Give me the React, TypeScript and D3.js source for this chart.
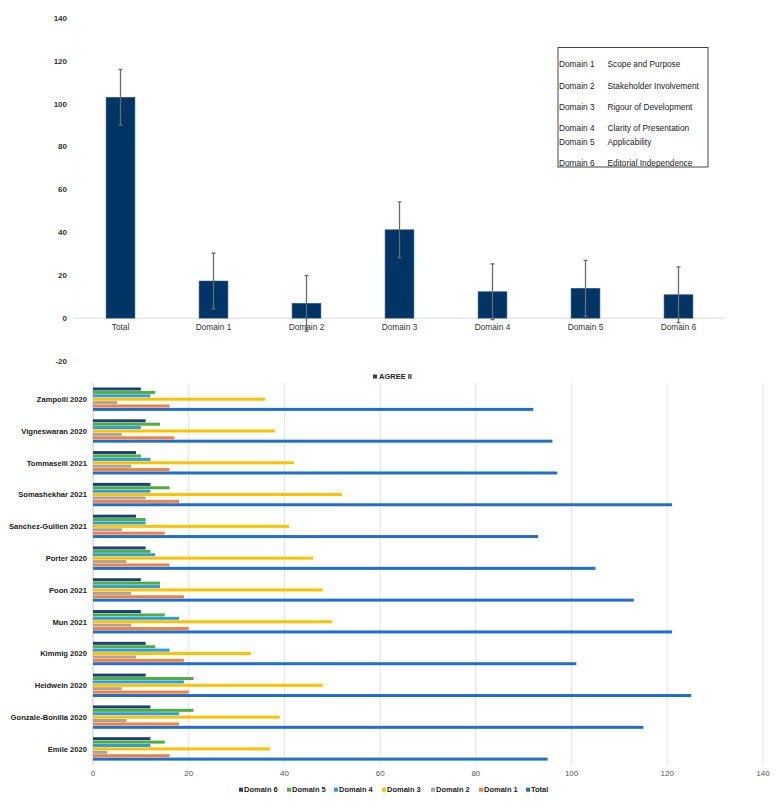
import React from "react";
import * as d3 from "d3";

// ---- Top chart data ----
const topCategories = ["Total", "Domain 1", "Domain 2", "Domain 3", "Domain 4", "Domain 5", "Domain 6"];
const topValues = [103, 17.3, 6.9, 41.2, 12.3, 13.9, 10.9];
const topErrors = [13, 13, 13, 13, 13, 13, 13];
const topTicks = [-20, 0, 20, 40, 60, 80, 100, 120, 140];

const legendCodes = ["Domain 1", "Domain 2", "Domain 3", "Domain 4", "Domain 5", "Domain 6"];
const legendNames = [
  "Scope and Purpose",
  "Stakeholder Involvement",
  "Rigour of Development",
  "Clarity of Presentation",
  "Applicability",
  "Editorial Independence",
];

// ---- Bottom chart data ----
const studies = [
  "Zampolli 2020",
  "Vigneswaran 2020",
  "Tommaselli 2021",
  "Somashekhar 2021",
  "Sanchez-Guillen 2021",
  "Porter 2020",
  "Poon 2021",
  "Mun 2021",
  "Kimmig 2020",
  "Heidwein 2020",
  "Gonzale-Bonilla 2020",
  "Emile 2020",
];
const seriesNames = ["Domain 6", "Domain 5", "Domain 4", "Domain 3", "Domain 2", "Domain 1", "Total"];
const domain6 = [10, 11, 9, 12, 9, 11, 10, 10, 11, 11, 12, 12];
const domain5 = [13, 14, 10, 16, 11, 12, 14, 15, 13, 21, 21, 15];
const domain4 = [12, 10, 12, 12, 11, 13, 14, 18, 16, 19, 18, 12];
const domain3 = [36, 38, 42, 52, 41, 46, 48, 50, 33, 48, 39, 37];
const domain2 = [5, 6, 8, 11, 6, 7, 8, 8, 9, 6, 7, 3];
const domain1 = [16, 17, 16, 18, 15, 16, 19, 20, 19, 20, 18, 16];
const total = [92, 96, 97, 121, 93, 105, 113, 121, 101, 125, 115, 95];
const seriesValues = [domain6, domain5, domain4, domain3, domain2, domain1, total];
const seriesColors = ["#1F3F77", "#4CAF3E", "#2B9EE0", "#FFC000", "#A5A5A5", "#F4813A", "#1E6FD0"];
const bottomTicks = [0, 20, 40, 60, 80, 100, 120, 140];

const FONT = "'Liberation Sans', Arial, sans-serif";

export default function App() {
  // top chart scales
  const xTop = d3.scaleBand<string>().domain(topCategories).range([74, 725]).paddingInner(0.69).paddingOuter(0.345);
  const yTop = d3.scaleLinear().domain([-20, 140]).range([361, 18]);

  // bottom chart scales
  const yBot = d3.scaleBand<string>().domain(studies).range([383.5, 765]).paddingInner(0).paddingOuter(0);
  const xBot = d3.scaleLinear().domain([0, 140]).range([93, 763]);
  const barH = 3.4;
  const groupInner = barH * seriesNames.length;

  const legendItemX = [239, 287, 334, 382, 431, 479, 526];

  return (
    <svg width={783} height={806} style={{ position: "absolute", left: 0, top: 0, background: "#fff" }} fontFamily={FONT}>
      <rect x={0} y={0} width={783} height={806} fill="#fff" />
      {/* ===== Top chart ===== */}
      {topTicks.map((t) => (
        <text key={"tt" + t} x={67} y={yTop(t)} dy="0.35em" textAnchor="end" fontSize={8} fontWeight="bold" fill="#333">
          {t}
        </text>
      ))}
      <line x1={74} x2={725} y1={yTop(0)} y2={yTop(0)} stroke="#d9d9d9" strokeWidth={1} />
      {topCategories.map((c, i) => {
        const x = xTop(c)!;
        const w = xTop.bandwidth();
        const v = topValues[i];
        const cx = x + w / 2;
        const e = topErrors[i];
        return (
          <g key={"tb" + c}>
            <rect x={x} y={yTop(v)} width={w} height={yTop(0) - yTop(v)} fill="#003565" stroke="#2a5a8a" strokeWidth={0.6} />
            <line x1={cx} x2={cx} y1={yTop(v + e)} y2={yTop(v - e)} stroke="#6b6b6b" strokeWidth={1.3} />
            <line x1={cx - 2} x2={cx + 2} y1={yTop(v + e)} y2={yTop(v + e)} stroke="#6b6b6b" strokeWidth={1.3} />
            <line x1={cx - 2} x2={cx + 2} y1={yTop(v - e)} y2={yTop(v - e)} stroke="#6b6b6b" strokeWidth={1.3} />
            <text x={cx} y={327} dy="0.35em" textAnchor="middle" fontSize={8.3} fill="#333">
              {c}
            </text>
          </g>
        );
      })}
      {/* legend box */}
      <rect x={558} y={47.5} width={150} height={119.5} fill="#fff" stroke="#444" strokeWidth={1} />
      {legendCodes.map((c, i) => {
        const ys = [64.5, 86, 107, 128, 142, 163];
        return (
          <g key={"lg" + c}>
            <text x={559} y={ys[i]} dy="0.35em" fontSize={8.3} fill="#222">
              {c}
            </text>
            <text x={607.5} y={ys[i]} dy="0.35em" fontSize={8.3} fill="#222">
              {legendNames[i]}
            </text>
          </g>
        );
      })}

      {/* ===== Bottom chart ===== */}
      <rect x={373} y={374.5} width={4} height={4} fill="#1F3F77" />
      <text x={379} y={376.7} dy="0.35em" fontSize={7.5} fontWeight="bold" fill="#222">
        AGREE II
      </text>
      {bottomTicks.map((t) => (
        <g key={"bt" + t}>
          {t !== 0 && <line x1={xBot(t)} x2={xBot(t)} y1={383} y2={765} stroke="#e3e3e3" strokeWidth={1} />}
          <text x={xBot(t)} y={773} dy="0.35em" textAnchor="middle" fontSize={8} fill="#555">
            {t}
          </text>
        </g>
      ))}
      <line x1={xBot(0)} x2={xBot(0)} y1={383} y2={765} stroke="#c8c8c8" strokeWidth={1} />
      {studies.map((s, i) => {
        const y0 = yBot(s)! + (yBot.bandwidth() - groupInner) / 2;
        return (
          <g key={"st" + s}>
            <text x={87} y={yBot(s)! + yBot.bandwidth() / 2} dy="0.35em" textAnchor="end" fontSize={7.6} fontWeight="bold" fill="#222">
              {s}
            </text>
            {seriesNames.map((n, k) => (
              <rect
                key={n}
                x={xBot(0)}
                y={y0 + k * barH}
                width={xBot(seriesValues[k][i]) - xBot(0)}
                height={barH - 0.4}
                fill={seriesColors[k]}
              />
            ))}
          </g>
        );
      })}
      {seriesNames.map((n, k) => (
        <g key={"bl" + n}>
          <rect x={legendItemX[k]} y={787.7} width={4} height={4} fill={seriesColors[k]} />
          <text x={legendItemX[k] + 5} y={789.7} dy="0.35em" fontSize={7.5} fontWeight="bold" fill="#222">
            {n}
          </text>
        </g>
      ))}
    </svg>
  );
}
